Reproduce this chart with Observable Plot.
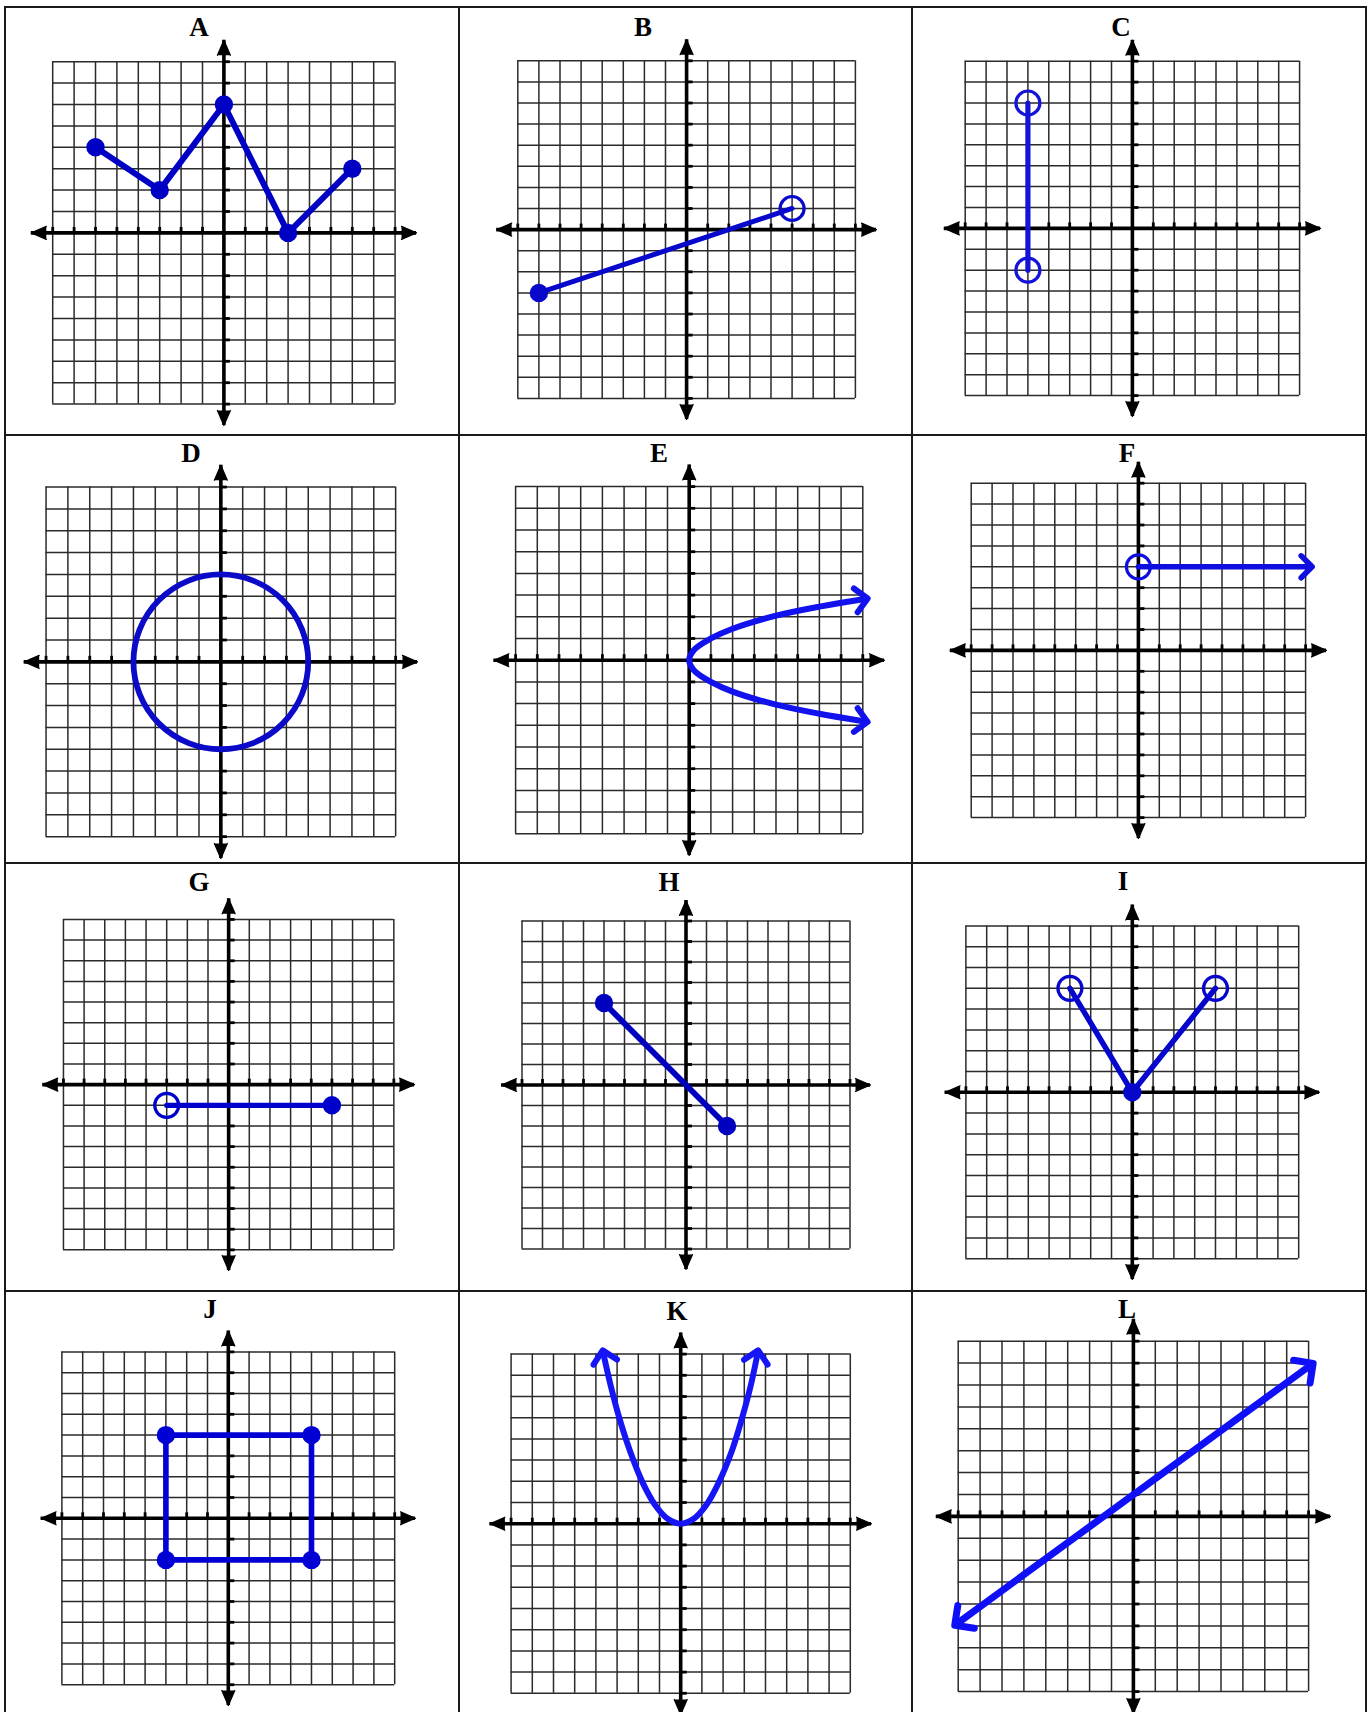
<!DOCTYPE html>
<html><head><meta charset="utf-8">
<script src="https://cdn.jsdelivr.net/npm/d3@7"></script>
<script src="https://cdn.jsdelivr.net/npm/@observablehq/plot@0.6"></script>
<style>
body{margin:0;background:#fff;}
#page{position:relative;width:1369px;height:1712px;overflow:hidden;background:#fff;}
.rule{position:absolute;background:#1a1a1a;}
.letter{position:absolute;width:60px;text-align:center;font-family:"Liberation Serif","Times New Roman",serif;font-weight:bold;font-size:27px;line-height:27px;color:#000;}
.panel{position:absolute;}
.panel svg{overflow:visible;display:block;}
</style></head><body><div id="page"></div>
<script>
// ---------- data ----------
const panelLetters = ["A","B","C","D","E","F","G","H","I","J","K","L"];
const gridValues = [-8,-7,-6,-5,-4,-3,-2,-1,0,1,2,3,4,5,6,7,8];
const axisTickValues = [-8,-7,-6,-5,-4,-3,-2,-1,1,2,3,4,5,6,7,8];
const gridExtent = [-8, 8];
const axisExtent = [-9, 9];

// A: connected points
const aX = [-6, -3, 0, 3, 6];
const aY = [4, 2, 6, 0, 3];
const aEnds = ["closed","closed","closed","closed","closed"];
// B: segment
const bX = [-7, 5];
const bY = [-3, 1];
const bEnds = ["closed","open"];
// C: vertical segment
const cX = [-5, -5];
const cY = [6, -2];
const cEnds = ["open","open"];
// D: circle
const dCenterX = [0];
const dCenterY = [0];
const dRadius = [4];
// E: sideways parabola
const eX = [7.95, 6, 4, 2, 1, 0.25, 0, 0.25, 1, 2, 4, 6, 7.95];
const eY = [-2.8, -2.47, -2.05, -1.45, -1, -0.5, 0, 0.5, 1, 1.45, 2.05, 2.47, 2.8];
// F: ray
const fX = [0, 8.05];
const fY = [4, 4];
const fEnds = ["open","none"];
// G: horizontal segment
const gX = [-3, 5];
const gY = [-1, -1];
const gEnds = ["open","closed"];
// H: segment
const hX = [-4, 2];
const hY = [4, -2];
const hEnds = ["closed","closed"];
// I: V shape
const iX = [-3, 0, 4];
const iY = [5, 0, 5];
const iEnds = ["open","closed","open"];
// J: rectangle
const jX = [-3, 4, 4, -3, -3];
const jY = [4, 4, -2, -2, 4];
const jEnds = ["closed","closed","closed","closed","none"];
// K: parabola
const kX = [-3.62, -3.3, -2.9, -2.4, -1.8, -1.2, -0.6, 0, 0.6, 1.2, 1.8, 2.42, 2.9, 3.3, 3.6];
const kY = [7.9, 6.5, 5.0, 3.45, 1.95, 0.87, 0.22, 0, 0.22, 0.87, 1.95, 3.45, 5.0, 6.5, 7.9];
// L: line
const lX = [-7.9, 7.95];
const lY = [-4.78, 6.8];

// ---------- layout (pixel placement of each panel) ----------
const layout = [
  {ox:223,    oy:232,    c:21.4,  lx:199,  ly:37,   color:"#0000c4", sw:6},
  {ox:686.5,  oy:229.3,  c:21.1,  lx:643,  ly:37,   color:"#0808cc", sw:5},
  {ox:1131.7, oy:228.2,  c:20.9,  lx:1121, ly:37,   color:"#1414d8", sw:5.2},
  {ox:220.2,  oy:661.7,  c:21.85, lx:191,  ly:463,  color:"#0a0ac8", sw:5.8},
  {ox:688.5,  oy:659.7,  c:21.7,  lx:659,  ly:463,  color:"#1212ee", sw:6},
  {ox:1138.2, oy:650.3,  c:20.9,  lx:1127, ly:463,  color:"#0e0ee0", sw:5.5},
  {ox:228.4,  oy:1083.8, c:20.65, lx:199,  ly:892,  color:"#0000cc", sw:5.2},
  {ox:685.1,  oy:1084.6, c:20.5,  lx:669,  ly:892,  color:"#0000c0", sw:5.8},
  {ox:1132.2, oy:1092,   c:20.8,  lx:1123, ly:891,  color:"#0606cc", sw:5.5},
  {ox:227.6,  oy:1518,   c:20.8,  lx:210,  ly:1319, color:"#0000d4", sw:5.6},
  {ox:680,    oy:1523.5, c:21.2,  lx:677,  ly:1321, color:"#1515f5", sw:6},
  {ox:1132.6, oy:1516,   c:21.9,  lx:1127, ly:1319, color:"#1010f8", sw:7}
];
const colEdges = [4, 458, 911, 1365];
const rowEdges = [6, 433.5, 862, 1290];

// ---------- drawing ----------
const page = document.getElementById("page");
function addRule(x, y, w, h) {
  const d = document.createElement("div");
  d.className = "rule";
  Object.assign(d.style, {left: x + "px", top: y + "px", width: w + "px", height: h + "px"});
  page.appendChild(d);
}
for (const x of colEdges) addRule(x, rowEdges[0], 2, 1712 - rowEdges[0]);
for (const y of rowEdges) addRule(colEdges[0], y, colEdges[3] + 2 - colEdges[0], 2);

const pts = (xs, ys) => xs.map((x, i) => ({x, y: ys[i]}));
function endpoints(xs, ys, ends, color) {
  const d = pts(xs, ys).map((p, i) => ({...p, kind: ends[i]}));
  return [
    Plot.dot(d.filter(p => p.kind === "closed"), {x: "x", y: "y", r: 9.2, fill: color, stroke: "none"}),
    Plot.dot(d.filter(p => p.kind === "open"), {x: "x", y: "y", r: 12, fill: "none", stroke: color, strokeWidth: 3.2})
  ];
}
const arrowTips = [
  {x: axisExtent[1], y: 0, rot: 90},
  {x: axisExtent[0], y: 0, rot: 270},
  {x: 0, y: axisExtent[1], rot: 0},
  {x: 0, y: axisExtent[0], rot: 180}
];
function baseMarks() {
  return [
    Plot.ruleX(gridValues, {x: d => d, y1: gridExtent[0], y2: gridExtent[1], stroke: "#2a2a2a", strokeWidth: 1.5}),
    Plot.ruleY(gridValues, {y: d => d, x1: gridExtent[0], x2: gridExtent[1], stroke: "#2a2a2a", strokeWidth: 1.5}),
    Plot.ruleY([0], {x1: axisExtent[0], x2: axisExtent[1], stroke: "#000", strokeWidth: 3.6}),
    Plot.ruleX([0], {y1: axisExtent[0], y2: axisExtent[1], stroke: "#000", strokeWidth: 3.6}),
    Plot.ruleX(axisTickValues, {x: d => d, y1: 0, y2: 0, insetTop: -5.5, stroke: "#000", strokeWidth: 2.8}),
    Plot.ruleY(axisTickValues, {y: d => d, x1: 0, x2: 0, insetRight: -6.5, stroke: "#000", strokeWidth: 2.8}),
    Plot.vector(arrowTips, {x: "x", y: "y", rotate: "rot", length: 15, r: 6.5, shape: "spike", anchor: "end", fill: "#000", stroke: "#000", strokeWidth: 1.2, fillOpacity: 1})
  ];
}
function drawPanel(i, shapeMarks, opts = {}) {
  const L = layout[i];
  const S = 11;
  const size = 2 * S * L.c;
  const svg = Plot.plot({
    width: size, height: size, margin: 0,
    x: {domain: [-S, S], axis: null},
    y: {domain: [-S, S], axis: null},
    ...opts,
    style: {background: "transparent", overflow: "visible"},
    marks: [...baseMarks(), ...shapeMarks]
  });
  const wrap = document.createElement("div");
  wrap.className = "panel";
  Object.assign(wrap.style, {left: (L.ox - S * L.c) + "px", top: (L.oy - S * L.c) + "px", width: size + "px", height: size + "px"});
  wrap.appendChild(svg);
  page.appendChild(wrap);
  const t = document.createElement("div");
  t.className = "letter";
  t.textContent = panelLetters[i];
  Object.assign(t.style, {left: (L.lx - 30) + "px", top: (L.ly - 23) + "px"});
  page.appendChild(t);
}
const lineOpts = (L, extra = {}) => ({x: "x", y: "y", stroke: L.color, strokeWidth: L.sw, strokeLinejoin: "round", strokeLinecap: "round", ...extra});

// A
drawPanel(0, [Plot.line(pts(aX, aY), lineOpts(layout[0])), ...endpoints(aX, aY, aEnds, layout[0].color)]);
// B
drawPanel(1, [Plot.line(pts(bX, bY), lineOpts(layout[1])), ...endpoints(bX, bY, bEnds, layout[1].color)]);
// C
drawPanel(2, [Plot.line(pts(cX, cY), lineOpts(layout[2])), ...endpoints(cX, cY, cEnds, layout[2].color)]);
// D
drawPanel(3, [Plot.dot(dCenterX.map((x, i) => ({x, y: dCenterY[i], r: dRadius[i]})), {x: "x", y: "y", r: "r", fill: "none", stroke: layout[3].color, strokeWidth: layout[3].sw})],
  {r: {type: "linear", domain: [0, 1], range: [0, layout[3].c]}});
// E
drawPanel(4, [Plot.line(pts(eX, eY), lineOpts(layout[4], {curve: "catmull-rom", markerStart: "arrow-reverse", markerEnd: "arrow"}))]);
// F
drawPanel(5, [Plot.line(pts(fX, fY), lineOpts(layout[5], {markerEnd: "arrow"})), ...endpoints(fX, fY, fEnds, layout[5].color)]);
// G
drawPanel(6, [Plot.line(pts(gX, gY), lineOpts(layout[6])), ...endpoints(gX, gY, gEnds, layout[6].color)]);
// H
drawPanel(7, [Plot.line(pts(hX, hY), lineOpts(layout[7])), ...endpoints(hX, hY, hEnds, layout[7].color)]);
// I
drawPanel(8, [Plot.line(pts(iX, iY), lineOpts(layout[8])), ...endpoints(iX, iY, iEnds, layout[8].color)]);
// J
drawPanel(9, [Plot.line(pts(jX, jY), lineOpts(layout[9])), ...endpoints(jX, jY, jEnds, layout[9].color)]);
// K
drawPanel(10, [Plot.line(pts(kX, kY), lineOpts(layout[10], {curve: "catmull-rom", markerStart: "arrow-reverse", markerEnd: "arrow"}))]);
// L
drawPanel(11, [Plot.line(pts(lX, lY), lineOpts(layout[11], {markerStart: "arrow-reverse", markerEnd: "arrow"}))]);
</script></body></html>
